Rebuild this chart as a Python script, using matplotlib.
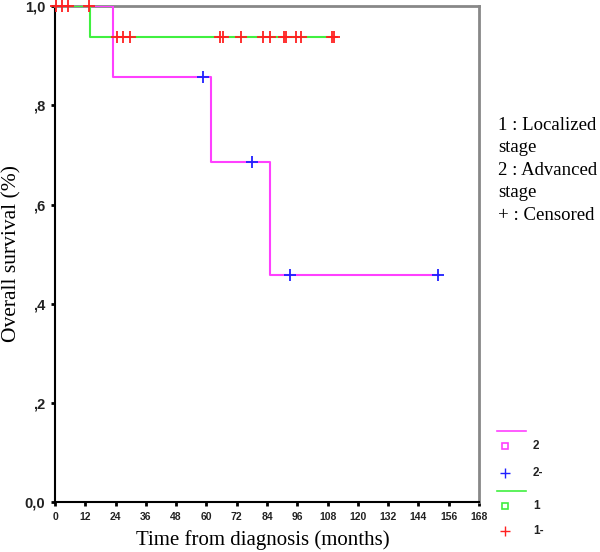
import numpy as np
import matplotlib
matplotlib.use("Agg")
import matplotlib.pyplot as plt
from matplotlib.lines import Line2D

# Kaplan-Meier steps
g2_times = [0, 23, 62, 85, 152]
g2_surv = [1.0, 0.857, 0.686, 0.457, 0.457]
g2_censor = [58.6, 78, 93, 151.7]

g1_times = [0, 14, 111]
g1_surv = [1.0, 0.9375, 0.9375]
g1_censor = [0.5, 2.8, 5.2, 13.5, 24.6, 27, 29.7, 65.4, 66.6, 73.7, 82.4,
             85.2, 90.7, 91.5, 95.5, 97.5, 109.7, 110.5]

x_ticks = list(range(0, 169, 12))
y_ticks = [0.0, 0.2, 0.4, 0.6, 0.8, 1.0]
y_labels = ["0,0", ",2", ",4", ",6", ",8", "1,0"]

magenta = "#ff40ff"
green = "#40f040"
red = "#ff2020"
blue = "#2020ff"
serif = "Liberation Serif"
sans = "Liberation Sans"


def surv_at(times, surv, t):
    idx = np.searchsorted(times, t, side="right") - 1
    return np.array(surv)[idx]


fig = plt.figure(figsize=(6, 5.52), dpi=100)
ax = fig.add_axes([0.0917, 0.0906, 0.7066, 0.898])

ax.step(g2_times, g2_surv, where="post", color=magenta, lw=1.5, zorder=3)
ax.step(g1_times, g1_surv, where="post", color=green, lw=1.5, zorder=4)
ax.plot(g1_censor, surv_at(g1_times, g1_surv, g1_censor), "+", color=red,
        ms=9, mew=1.3, zorder=5, clip_on=False)
ax.plot(g2_censor, surv_at(g2_times, g2_surv, g2_censor), "+", color=blue,
        ms=9, mew=1.3, zorder=5, clip_on=False)

ax.set_xlim(0, 168)
ax.set_ylim(0, 1.0)
ax.set_xticks(x_ticks)
ax.set_xticklabels([str(t) for t in x_ticks], family=sans, fontsize=7.5,
                   fontweight="bold", color="#222222")
ax.set_yticks(y_ticks)
ax.set_yticklabels(y_labels, family=sans, fontsize=10.5, fontweight="bold",
                   color="#222222")
ax.tick_params(axis="both", direction="out", length=3, width=2, pad=4)

for side in ["left", "bottom"]:
    ax.spines[side].set_color("black")
    ax.spines[side].set_linewidth(1.5)
for side in ["top", "right"]:
    ax.spines[side].set_color("#888888")
    ax.spines[side].set_linewidth(2)

ax.set_xlabel("Time from diagnosis (months)", family=serif, fontsize=15)
ax.xaxis.set_label_coords(0.489, -0.057)
ax.set_ylabel("Overall survival (%)", family=serif, fontsize=15.5, va="center")
ax.yaxis.set_label_coords(-0.101, 0.502)

fig.text(0.83, 0.788, "1 : Localized\nstage\n2 : Advanced\nstage\n+ : Censored",
         family=serif, fontsize=13.5, va="top", ha="left", linespacing=1.42)

# legend drawn by hand to follow the original layout
def fx(px):
    return px / 600


def fy(py):
    return 1 - py / 552


fig.add_artist(Line2D([fx(497), fx(526)], [fy(431), fy(431)], color=magenta, lw=1.2))
fig.add_artist(Line2D([fx(505)], [fy(446)], marker="s", ms=4, mfc="none",
                      mec=magenta, mew=1.2, ls="none"))
fig.add_artist(Line2D([fx(505)], [fy(473)], marker="+", ms=7, color=blue,
                      mew=1.0, ls="none"))
fig.add_artist(Line2D([fx(497), fx(526)], [fy(491), fy(491)], color=green, lw=1.2))
fig.add_artist(Line2D([fx(505)], [fy(506)], marker="s", ms=4, mfc="none",
                      mec=green, mew=1.2, ls="none"))
fig.add_artist(Line2D([fx(505)], [fy(531)], marker="+", ms=7, color=red,
                      mew=1.0, ls="none"))

for txt, py in [("2", 446), ("2-", 473), ("1", 506), ("1-", 531)]:
    fig.text(fx(533), fy(py), txt, family=sans, fontsize=8.5, fontweight="bold",
             va="center", ha="left", color="#222222")

fig.savefig("out.png", dpi=100)
